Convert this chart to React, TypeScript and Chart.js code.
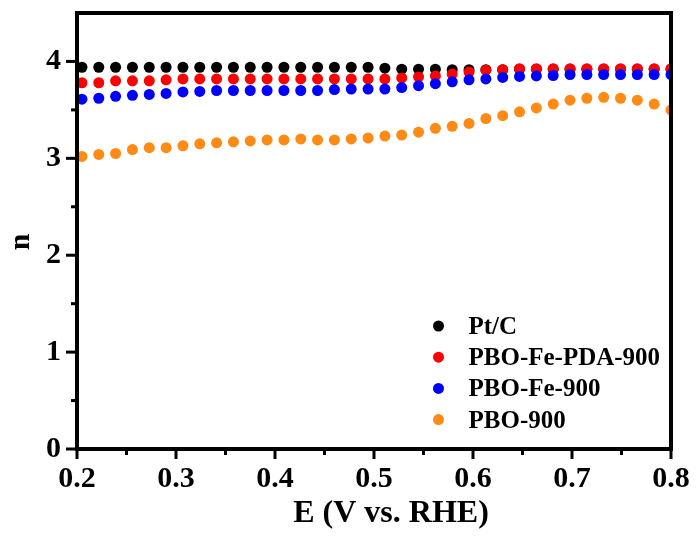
import React, { useEffect, useRef } from 'react';
import { Chart, registerables } from 'chart.js';

Chart.register(...registerables);

// E (V vs. RHE)
const potentials = [
  0.205, 0.222, 0.239, 0.256, 0.273, 0.29, 0.307, 0.324, 0.341, 0.358, 0.375, 0.392,
  0.409, 0.426, 0.443, 0.46, 0.477, 0.494, 0.511, 0.528, 0.545, 0.562, 0.579, 0.596,
  0.613, 0.63, 0.647, 0.664, 0.681, 0.698, 0.715, 0.732, 0.749, 0.766, 0.783, 0.8,
];

const ptC = [
  3.94, 3.94, 3.94, 3.94, 3.94, 3.94, 3.94, 3.94, 3.94, 3.94, 3.94, 3.94,
  3.94, 3.94, 3.94, 3.94, 3.94, 3.94, 3.93, 3.92, 3.92, 3.92, 3.915, 3.915,
  3.915, 3.915, 3.92, 3.92, 3.92, 3.92, 3.92, 3.92, 3.92, 3.92, 3.92, 3.92,
];

const pboFePda900 = [
  3.78, 3.78, 3.8, 3.8, 3.8, 3.81, 3.82, 3.82, 3.82, 3.82, 3.82, 3.82,
  3.82, 3.82, 3.82, 3.82, 3.82, 3.82, 3.82, 3.83, 3.84, 3.85, 3.87, 3.89,
  3.91, 3.915, 3.925, 3.925, 3.925, 3.925, 3.925, 3.925, 3.925, 3.925, 3.925, 3.925,
];

const pboFe900 = [
  3.61, 3.62, 3.64, 3.65, 3.66, 3.67, 3.685, 3.69, 3.7, 3.7, 3.7, 3.7,
  3.7, 3.7, 3.7, 3.71, 3.715, 3.715, 3.715, 3.73, 3.75, 3.77, 3.79, 3.81,
  3.82, 3.835, 3.845, 3.85, 3.855, 3.865, 3.865, 3.865, 3.865, 3.865, 3.865, 3.865,
];

const pbo900 = [
  3.02, 3.04, 3.05, 3.09, 3.11, 3.11, 3.13, 3.15, 3.16, 3.17, 3.18, 3.19,
  3.19, 3.2, 3.19, 3.19, 3.2, 3.21, 3.23, 3.24, 3.27, 3.31, 3.33, 3.36,
  3.41, 3.44, 3.48, 3.52, 3.56, 3.6, 3.62, 3.63, 3.62, 3.6, 3.56, 3.5,
];

const seriesLabels = ['Pt/C', 'PBO-Fe-PDA-900', 'PBO-Fe-900', 'PBO-900'];
const seriesValues = [ptC, pboFePda900, pboFe900, pbo900];
const seriesColors = ['#000000', '#ff0000', '#0000ff', '#ff8a14'];

const xTitle = 'E (V vs. RHE)';
const yTitle = 'n';

const FONT = '"Liberation Serif", "Times New Roman", serif';

const framePlugin = {
  id: 'frameTicksTitlesLegend',
  afterDatasetsDraw(chart: any) {
    const { ctx, chartArea } = chart;
    const { left, right, top, bottom } = chartArea;
    const xs = chart.scales.x;
    const ys = chart.scales.y;
    ctx.save();
    ctx.strokeStyle = '#000';
    ctx.lineCap = 'butt';

    // tick marks
    ctx.lineWidth = 3;
    xs.ticks.forEach((t: any) => {
      const px = xs.getPixelForValue(t.value);
      const major = Math.abs(t.value * 10 - Math.round(t.value * 10)) < 1e-6;
      const len = major ? 10 : 6;
      ctx.beginPath();
      ctx.moveTo(px, bottom);
      ctx.lineTo(px, bottom + len);
      ctx.stroke();
    });
    ys.ticks.forEach((t: any) => {
      if (t.value > 4.01) return;
      const py = ys.getPixelForValue(t.value);
      const major = Math.abs(t.value - Math.round(t.value)) < 1e-6;
      const len = major ? 11 : 6;
      ctx.beginPath();
      ctx.moveTo(left, py);
      ctx.lineTo(left - len, py);
      ctx.stroke();
    });

    // frame
    ctx.lineWidth = 4;
    ctx.strokeRect(left, top, right - left, bottom - top);

    // axis titles
    ctx.fillStyle = '#000';
    ctx.font = `bold 32px ${FONT}`;
    ctx.textAlign = 'center';
    ctx.textBaseline = 'alphabetic';
    ctx.fillText(xTitle, (left + right) / 2 + 17, 522);

    ctx.save();
    ctx.translate(29, (top + bottom) / 2 + 11);
    ctx.rotate(-Math.PI / 2);
    ctx.font = `bold 30px ${FONT}`;
    ctx.fillText(yTitle, 0, 0);
    ctx.restore();

    // legend inside plot
    ctx.font = `bold 25px ${FONT}`;
    ctx.textAlign = 'left';
    const rowGap = 31.2;
    const firstCenter = bottom - 123;
    chart.data.datasets.forEach((ds: any, i: number) => {
      const cy = firstCenter + i * rowGap;
      ctx.fillStyle = ds.backgroundColor;
      ctx.beginPath();
      ctx.arc(left + 361.5, cy, 5.5, 0, Math.PI * 2);
      ctx.fill();
      ctx.fillStyle = '#000';
      ctx.fillText(ds.label, left + 391.5, cy + 8);
    });
    ctx.restore();
  },
};

export default function App() {
  const ref = useRef<HTMLCanvasElement | null>(null);

  useEffect(() => {
    if (!ref.current) return;
    const datasets = seriesLabels.map((label, i) => ({
      label,
      data: potentials.map((x, j) => ({ x, y: seriesValues[i][j] })),
      backgroundColor: seriesColors[i],
      borderColor: seriesColors[i],
      pointRadius: 5.5,
      pointBorderWidth: 0,
      showLine: false,
      clip: 0,
      order: 4 - i,
    }));

    const chart = new Chart(ref.current, {
      type: 'scatter',
      data: { datasets },
      options: {
        animation: false,
        responsive: true,
        maintainAspectRatio: false,
        layout: { padding: { top: 13, right: 27, left: 0, bottom: 0 } },
        plugins: { legend: { display: false }, tooltip: { enabled: false } },
        scales: {
          x: {
            type: 'linear',
            min: 0.2,
            max: 0.8,
            grid: { display: false, drawTicks: false },
            border: { display: false },
            afterFit: (s: any) => {
              s.height = 88;
              s.paddingLeft = 0;
              s.paddingRight = 0;
            },
            ticks: {
              stepSize: 0.05,
              padding: 12,
              color: '#000',
              font: { family: FONT, size: 30, weight: 'bold' },
              autoSkip: false,
              maxRotation: 0,
              callback: (v: any) => {
                const n = Number(v);
                return Math.abs(n * 10 - Math.round(n * 10)) < 1e-6 ? n.toFixed(1) : '';
              },
            },
          },
          y: {
            type: 'linear',
            min: 0,
            max: 4.5,
            grid: { display: false, drawTicks: false },
            border: { display: false },
            afterFit: (s: any) => {
              s.width = 77;
              s.paddingTop = 0;
              s.paddingBottom = 0;
            },
            ticks: {
              stepSize: 0.5,
              padding: 16,
              color: '#000',
              font: { family: FONT, size: 30, weight: 'bold' },
              autoSkip: false,
              callback: (v: any) => {
                const n = Number(v);
                if (n > 4.01) return '';
                return Math.abs(n - Math.round(n)) < 1e-6 ? String(Math.round(n)) : '';
              },
            },
          },
        },
      },
      plugins: [framePlugin],
    });
    return () => chart.destroy();
  }, []);

  return (
    <div style={{ position: 'fixed', left: 0, top: 0, width: 698, height: 537, background: '#fff' }}>
      <canvas ref={ref} />
    </div>
  );
}
